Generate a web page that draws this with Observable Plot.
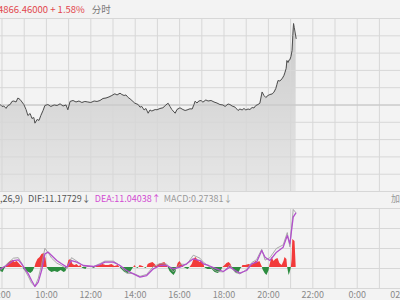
<!DOCTYPE html>
<html><head><meta charset="utf-8">
<script src="https://cdn.jsdelivr.net/npm/d3@7"></script>
<script src="https://cdn.jsdelivr.net/npm/@observablehq/plot@0.6"></script>
<style>
html,body{margin:0;padding:0;background:#f3f3f3;width:400px;height:300px;overflow:hidden;font-family:"Noto Sans CJK SC","Noto Sans",sans-serif;}
#wrap{position:relative;width:400px;height:300px;overflow:hidden;background:#f3f3f3;}
.band{position:absolute;left:0;width:420px;font-size:9px;line-height:12px;white-space:nowrap;}
</style></head><body><div id="wrap">
<div class="band" id="top" style="top:3px;left:-2px;font-size:9.5px;"></div>
<div class="band" id="mid" style="top:193px;left:-13px;"></div>
<div class="band" id="right" style="top:193px;left:391px;width:30px;color:#999;"></div>
</div>
<script>
// ---- header texts ----
const lastPrice = "4866.46000";
const changePct = "+ 1.58%";
const modeLabel = "分时";
const macdParams = "(12,26,9)";
const difText = "DIF:11.17729↓";
const deaText = "DEA:11.04038↑";
const macdText = "MACD:0.27381↓";
const rightText = "加载";

// ---- price series (intraday) ----
const priceTimes = [
"7:55","8:00","8:05","8:11","8:16","8:22","8:27","8:32","8:38","8:43",
"8:49","8:54","8:59","9:05","9:10","9:16","9:21","9:26","9:29","9:35",
"9:40","9:45","9:51","9:56","10:04","10:12","10:21","10:29","10:37","10:45",
"10:53","10:58","11:04","11:12","11:20","11:28","11:36","11:44","11:52","12:00",
"12:09","12:17","12:25","12:33","12:41","12:49","12:57","13:05","13:11","13:19",
"13:24","13:30","13:35","13:41","13:46","13:54","13:59","14:08","14:13","14:18",
"14:24","14:29","14:35","14:40","14:45","14:54","14:59","15:07","15:15","15:23",
"15:29","15:34","15:39","15:48","15:53","16:01","16:09","16:15","16:20","16:28",
"16:34","16:39","16:42","16:47","16:52","16:58","17:03","17:11","17:17","17:25",
"17:33","17:41","17:49","17:57","18:03","18:11","18:16","18:22","18:30","18:38",
"18:43","18:49","18:54","18:59","19:05","19:10","19:16","19:21","19:26","19:32",
"19:37","19:43","19:48","19:53","19:59","20:04","20:10","20:15","20:20","20:23",
"20:26","20:31","20:37","20:42","20:45","20:48","20:50","20:53","20:56","20:58",
"21:01","21:04","21:06","21:08","21:10","21:15"];
const prices = [
4791.3,4789.1,4789.6,4786.9,4790.2,4791.3,4794.8,4795.3,4794.2,4798.7,
4797.0,4794.2,4791.3,4785.6,4778.8,4781.1,4775.4,4776.5,4770.1,4774.3,
4773.2,4778.8,4784.5,4790.2,4791.3,4789.1,4790.8,4790.2,4792.1,4789.6,
4790.8,4785.3,4794.8,4795.9,4794.2,4795.3,4793.6,4794.8,4794.2,4793.6,
4795.3,4794.8,4795.9,4798.2,4798.7,4799.9,4801.6,4803.5,4802.2,4804.2,
4802.7,4801.6,4802.2,4799.3,4797.8,4794.8,4792.8,4791.3,4788.3,4789.1,
4785.1,4786.8,4781.4,4785.1,4783.9,4785.6,4785.3,4786.8,4787.6,4790.8,
4792.8,4789.1,4785.6,4781.4,4785.6,4787.6,4785.6,4784.5,4785.1,4786.4,
4786.2,4791.3,4795.1,4793.0,4795.3,4795.9,4794.0,4796.5,4795.3,4795.9,
4794.2,4793.0,4791.3,4790.8,4789.1,4791.9,4791.3,4789.6,4788.3,4784.5,
4786.2,4785.1,4786.8,4785.1,4786.2,4785.6,4787.9,4787.4,4790.2,4791.3,
4792.8,4805.6,4801.6,4799.3,4801.6,4802.7,4803.3,4805.3,4809.5,4814.1,
4818.6,4818.1,4820.6,4824.3,4828.1,4832.3,4841.4,4839.1,4842.0,4842.2,
4846.0,4852.8,4869.9,4883.5,4878.7,4866.46];
const prevClose = 4790.77;

// ---- MACD histogram ----
const histTimes = [
"7:55","8:03","8:08","8:11","8:14","8:19","8:24","8:30","8:35","8:41",
"8:46","8:51","8:57","8:59","9:05","9:13","9:18","9:24","9:29","9:32",
"9:37","9:43","9:48","9:54","9:59","10:02","10:07","10:15","10:23","10:31",
"10:40","10:48","10:53","10:56","11:01","11:06","11:12","11:17","11:23","11:28",
"11:34","11:36","11:39","11:47","11:50","11:52","12:00","12:04","12:09","12:13",
"12:17","12:25","12:33","12:41","12:49","12:57","13:05","13:14","13:19","13:24",
"13:32","13:41","13:49","13:54","13:56","13:59","14:03","14:08","14:10","14:13",
"14:21","14:25","14:29","14:32","14:35","14:40","14:48","14:54","14:59","15:04",
"15:12","15:20","15:26","15:29","15:34","15:39","15:45","15:50","15:53","15:56",
"16:01","16:06","16:12","16:17","16:23","16:28","16:34","16:39","16:44","16:50",
"16:55","17:00","17:06","17:08","17:11","17:17","17:28","17:36","17:44","17:52",
"17:57","18:03","18:08","18:14","18:19","18:22","18:27","18:35","18:41","18:46",
"18:49","18:51","18:59","19:08","19:16","19:21","19:26","19:32","19:37","19:43",
"19:44","19:45","19:51","19:56","20:02","20:03","20:04","20:10","20:15","20:20",
"20:26","20:31","20:37","20:42","20:45","20:50","20:52","20:53","20:56","20:58",
"21:01","21:02","21:04","21:06","21:12","21:15"];
const histValues = [
-0.81,-1.02,-0.20,0,0.61,1.02,1.22,1.42,1.02,1.22,
0.81,0.41,0,-0.41,-0.81,-1.02,-1.22,-0.81,0,0.81,
1.63,2.03,2.64,2.85,1.83,0,-0.61,-1.02,-0.81,-1.02,
-0.61,-1.02,-0.81,0,1.42,1.63,0.61,0.41,0.61,0.20,
0.41,0,-0.20,-0.41,0,0.20,0.20,0,-0.20,0,
0.41,0.41,0.61,0.41,0.41,0.61,0.20,0.41,0,-0.41,
-1.02,-1.22,-0.81,-0.20,0,0.41,0,-0.20,0,0.41,
0.20,0,-0.20,0,0.61,0.81,1.02,0.61,0.20,0.61,
0.81,1.02,0.41,0,-0.81,-1.22,-1.63,-1.02,0,0.81,
1.22,0.61,0,-0.20,-0.41,0,0.61,1.63,2.03,1.42,
1.02,1.22,0.61,0,-0.20,-0.41,-0.41,-1.02,-1.22,-0.81,
0,0.41,0.81,1.02,0.61,0,-0.61,-1.22,-1.02,-0.20,
0,0.41,0.41,0.61,0.41,0.81,1.22,1.02,1.22,0.20,
0,-0.41,-1.22,-1.63,-0.61,0,0.41,2.03,1.22,1.63,
1.83,0.81,0.41,1.22,2.03,1.63,0,-0.41,-1.63,-1.22,
-0.41,0,1.63,5.69,5.29,0.27381];

// ---- DIF / DEA lines ----
const lineTimes = [
"7:55","8:13","8:31","8:44","8:53","9:02","9:11","9:20","9:29","9:38",
"9:47","9:56","10:05","10:14","10:28","10:41","10:55","11:08","11:22","11:40",
"12:07","12:25","12:38","13:01","13:19","13:37","13:55","14:13","14:31","14:49",
"15:07","15:25","15:43","16:01","16:19","16:37","16:55","17:04","17:18","17:40",
"17:58","18:16","18:30","18:43","19:01","19:15","19:28","19:42","19:51","20:04",
"20:22","20:40","20:51","20:58","21:07","21:14"];
const deaValues = [
-0.27,0.41,1.42,1.56,0.75,-0.27,-1.29,-2.64,-3.86,-2.98,
-0.61,2.78,3.12,2.44,1.42,0.75,0.07,1.42,1.08,0.41,
0.20,0.61,1.08,1.08,0.41,-0.61,-1.29,-1.97,-1.63,-0.27,
0.41,0.41,-0.27,0.07,0.75,1.76,1.42,0.75,0.41,-0.27,
-0.81,0.07,-0.61,-1.15,-0.61,0.75,1.08,3.46,2.10,1.42,
3.12,4.14,6.51,4.81,10.24,11.04038];
const difValues = [
-0.6,0.7,1.9,2.0,0.9,-0.6,-1.8,-3.2,-3.8,-2.2,
0.6,3.9,3.0,1.9,0.9,0.4,-0.3,2.0,1.3,0.3,
0.2,0.8,1.3,1.3,0.4,-1.2,-1.2,-1.8,-1.4,0.2,
0.8,0.7,-0.9,0.7,0.6,2.5,1.9,1.1,0.3,-0.8,
-0.9,0.5,-1.0,-1.3,-0.4,1.0,1.6,3.7,1.5,2.0,
3.9,4.6,7.1,4.2,11.8,11.17729];

// ---- axis ticks ----
const tickHours = [8,10,12,14,16,18,20,22,24,26];
const tickLabels = ["8:00","10:00","12:00","14:00","16:00","18:00","20:00","22:00","0:00","02:00"];

// ---------------------------------------------------------------
const toH = s => { const [h, m] = s.split(":").map(Number); return h + m / 60; };
const priceData = priceTimes.map((t, i) => ({t: toH(t), p: prices[i]}));
const histData = histTimes.map((t, i) => ({t: toH(t), v: histValues[i]}));
const lineData = lineTimes.map((t, i) => ({t: toH(t), dif: difValues[i], dea: deaValues[i]}));
const labelMap = new Map(tickHours.map((h, i) => [h, tickLabels[i]]));

const pxPerHour = 22.2;
const xDomain = [8 - 1.5 / pxPerHour, 8 + 398.5 / pxPerHour];
const halfRange = 98.45;
const yDomain = [prevClose - halfRange, prevClose + halfRange];
const hourLines = d3.range(8, 26);
const priceGrid = d3.range(11).map(i => yDomain[0] + i * (yDomain[1] - yDomain[0]) / 10);
const macdDomain = [-4.27, 12];
const macdGrid = d3.range(5).map(i => macdDomain[0] + i * (macdDomain[1] - macdDomain[0]) / 4);
const gridColor = "#d7d7d7";
const font = '"Noto Sans CJK SC","Noto Sans",sans-serif';

const wrap = document.getElementById("wrap");

// header
document.getElementById("top").innerHTML =
  `<span style="color:#e2474d">${lastPrice} ${changePct}</span><span style="color:#777;margin-left:7px">${modeLabel}</span>`;
document.getElementById("mid").innerHTML =
  `<span style="color:#555">${macdParams}</span><span style="color:#555;margin-left:5px">${difText}</span>` +
  `<span style="color:#d24bd2;margin-left:4px">${deaText}</span><span style="color:#9a9a9a;margin-left:3px">${macdText}</span>`;
document.getElementById("right").textContent = rightText;

// main price chart
const main = Plot.plot({
  width: 400, height: 175,
  marginTop: 1, marginBottom: 1, marginLeft: 0, marginRight: 0,
  x: {domain: xDomain, axis: null},
  y: {domain: yDomain, axis: null},
  style: {background: "transparent", fontFamily: font, overflow: "visible"},
  marks: [
    Plot.areaY(priceData, {x: "t", y1: yDomain[0], y2: "p", fill: "url(#priceFill)"}),
    Plot.ruleX(hourLines, {stroke: gridColor}),
    Plot.ruleY(priceGrid, {stroke: gridColor}),
    Plot.ruleY([prevClose], {stroke: "#c4c4c4"}),
    Plot.lineY(priceData, {x: "t", y: "p", stroke: "#4e4e4e", strokeWidth: 1})
  ]
});
{
  const ns = "http://www.w3.org/2000/svg";
  const defs = document.createElementNS(ns, "defs");
  const lg = document.createElementNS(ns, "linearGradient");
  lg.setAttribute("id", "priceFill");
  lg.setAttribute("gradientUnits", "userSpaceOnUse");
  lg.setAttribute("x1", "0"); lg.setAttribute("x2", "0");
  lg.setAttribute("y1", "0"); lg.setAttribute("y2", "175");
  [["0", 0.17], ["0.5", 0.11], ["1", 0.05]].forEach(([o, a]) => {
    const st = document.createElementNS(ns, "stop");
    st.setAttribute("offset", o);
    st.setAttribute("stop-color", "#000");
    st.setAttribute("stop-opacity", a);
    lg.appendChild(st);
  });
  defs.appendChild(lg);
  main.insertBefore(defs, main.firstChild);
}
main.style.position = "absolute";
main.style.left = "0px";
main.style.top = "17px";
wrap.appendChild(main);

// MACD chart
const macd = Plot.plot({
  width: 400, height: 93,
  marginTop: 1, marginBottom: 12, marginLeft: 0, marginRight: 0,
  x: {domain: xDomain},
  y: {domain: macdDomain, axis: null},
  style: {background: "transparent", fontFamily: font, overflow: "visible"},
  marks: [
    Plot.ruleX(hourLines, {stroke: gridColor}),
    Plot.ruleY(macdGrid, {stroke: gridColor}),
    Plot.areaY(histData, {x: "t", y: d => Math.max(0, d.v), fill: "#f23a3a"}),
    Plot.areaY(histData, {x: "t", y: d => Math.min(0, d.v), fill: "#2c8c3f"}),
    Plot.lineY(lineData, {x: "t", y: "dif", stroke: "#a0a0a0", strokeWidth: 0.9}),
    Plot.lineY(lineData, {x: "t", y: "dea", stroke: "#b24fcb", strokeWidth: 1.3}),
    Plot.axisX(tickHours, {tickFormat: d => labelMap.get(d), tickSize: 0, tickPadding: 3,
      fontSize: 9, fill: "#8a8a8a", label: null})
  ]
});
macd.style.position = "absolute";
macd.style.left = "0px";
macd.style.top = "207px";
wrap.appendChild(macd);
</script>
</body></html>
